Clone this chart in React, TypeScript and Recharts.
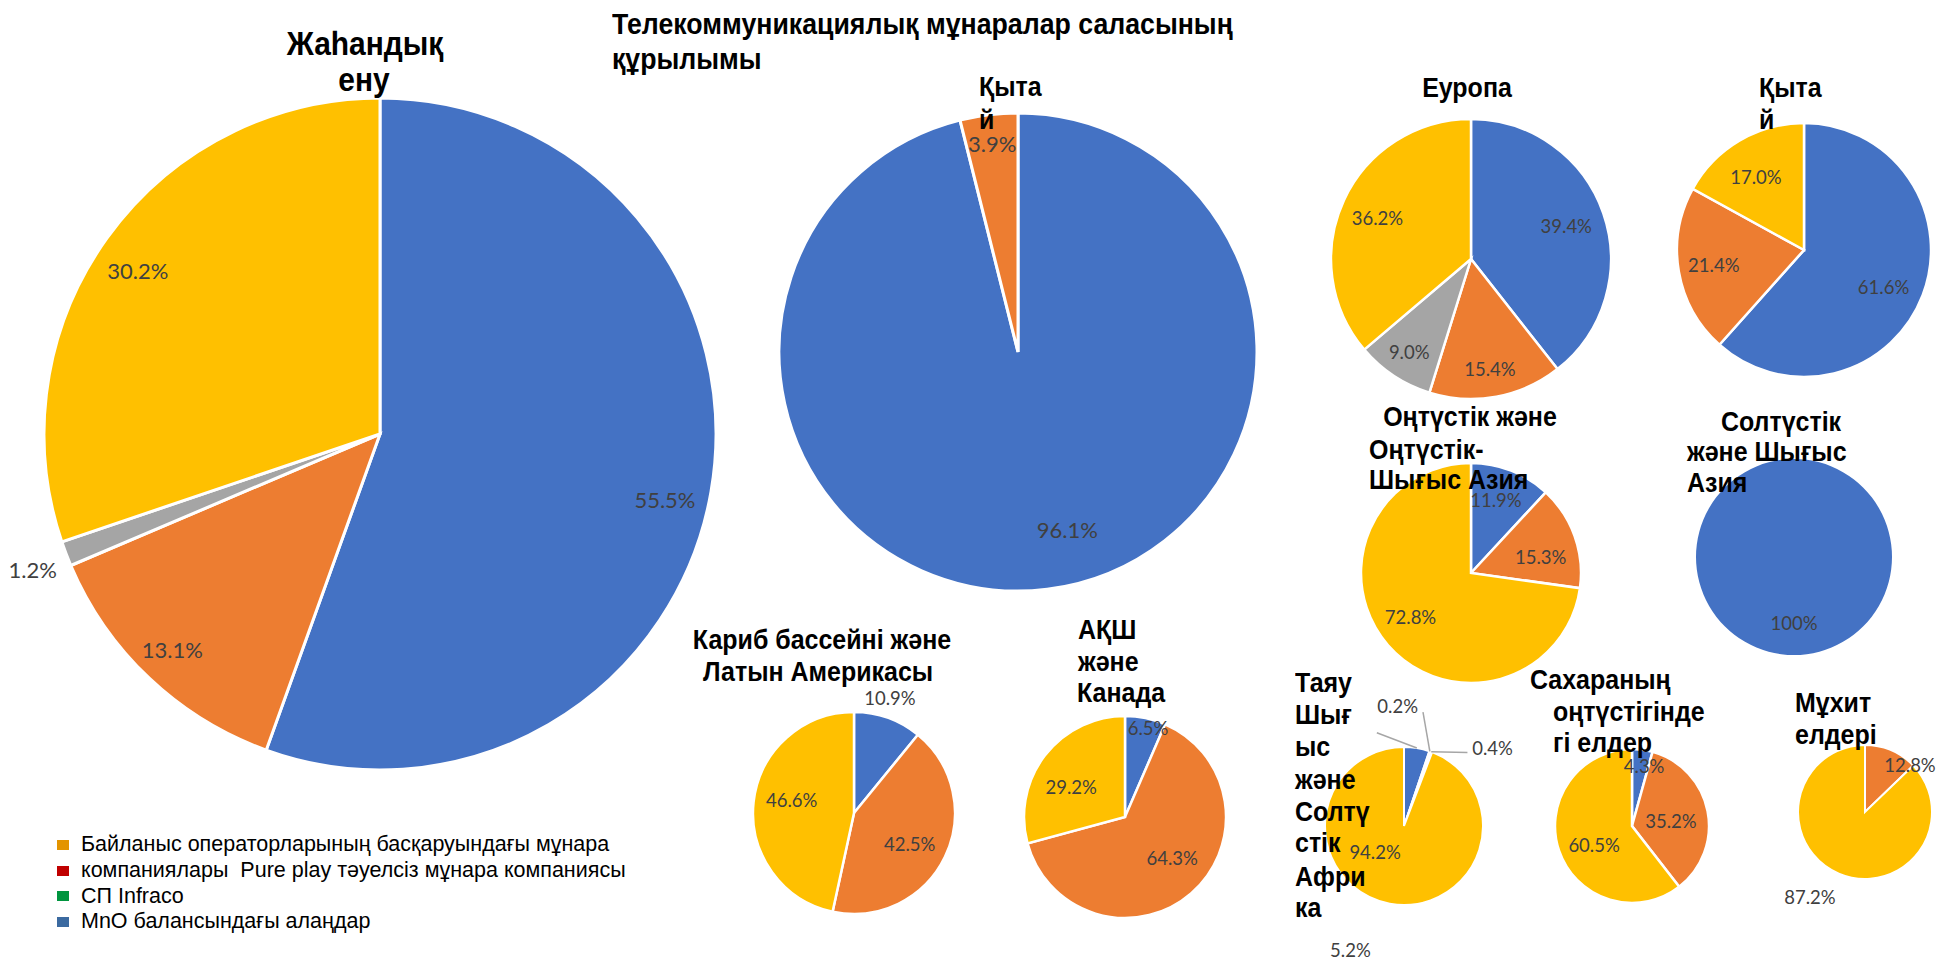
import React from "react";
import { PieChart, Pie, Cell } from "recharts";

// series colours (Office palette)
const COLORS: Record<string, string> = {
  blue: "#4472C4",
  orange: "#ED7D31",
  gray: "#A5A5A5",
  yellow: "#FFC000",
};

// values per pie, clockwise from 12 o'clock
const globalSeries = ["blue", "orange", "gray", "yellow"];
const globalValues = [55.5, 13.1, 1.2, 30.2];

const chinaSeries = ["blue", "orange"];
const chinaValues = [96.1, 3.9];

const europeSeries = ["blue", "orange", "gray", "yellow"];
const europeValues = [39.4, 15.4, 9.0, 36.2];

const china2Series = ["blue", "orange", "yellow"];
const china2Values = [61.6, 21.4, 17.0];

const southAsiaSeries = ["blue", "orange", "yellow"];
const southAsiaValues = [11.9, 15.3, 72.8];

const northAsiaSeries = ["blue"];
const northAsiaValues = [100];

const latamSeries = ["blue", "orange", "yellow"];
const latamValues = [10.9, 42.5, 46.6];

const usaSeries = ["blue", "orange", "yellow"];
const usaValues = [6.5, 64.3, 29.2];

const menaSeries = ["blue", "orange", "gray", "yellow"];
const menaValues = [5.2, 0.2, 0.4, 94.2];

const ssaSeries = ["blue", "orange", "yellow"];
const ssaValues = [4.3, 35.2, 60.5];

const oceaniaSeries = ["orange", "yellow"];
const oceaniaValues = [12.8, 87.2];

const legendItems = [
  { color: "#E39400", text: "Байланыс операторларының басқаруындағы мұнара" },
  { color: "#C00000", text: "компаниялары  Pure play тәуелсіз мұнара компаниясы" },
  { color: "#00953F", text: "СП Infraco" },
  { color: "#3B6AA0", text: "MnO балансындағы алаңдар" },
];

type Line = { text: string; x: number; y: number; center?: boolean; size: number; sx: number };

const H1 = { size: 34, sx: 0.88 };
const H2 = { size: 30, sx: 0.89 };
const H3 = { size: 27, sx: 0.925 };

const titles: Line[] = [
  { text: "Жаһандық", x: 365, y: 43, center: true, ...H1 },
  { text: "ену", x: 364, y: 79, center: true, ...H1 },
  { text: "Телекоммуникациялық мұнаралар саласының", x: 612, y: 24, ...H2 },
  { text: "құрылымы", x: 612, y: 59, ...H2 },
  { text: "Қыта", x: 979, y: 87, ...H3 },
  { text: "й", x: 979, y: 120, ...H3 },
  { text: "Еуропа", x: 1467, y: 88, center: true, ...H3 },
  { text: "Қыта", x: 1759, y: 88, ...H3 },
  { text: "й", x: 1759, y: 120, ...H3 },
  { text: "Оңтүстік және", x: 1470, y: 417, center: true, ...H3 },
  { text: "Оңтүстік-", x: 1369, y: 450, ...H3 },
  { text: "Шығыс Азия", x: 1369, y: 480, ...H3 },
  { text: "Солтүстік", x: 1781, y: 422, center: true, ...H3 },
  { text: "және Шығыс", x: 1687, y: 452, ...H3 },
  { text: "Азия", x: 1687, y: 483, ...H3 },
  { text: "Кариб бассейні және", x: 822, y: 640, center: true, ...H3 },
  { text: "Латын Америкасы", x: 818, y: 672, center: true, ...H3 },
  { text: "АҚШ", x: 1078, y: 630, ...H3 },
  { text: "және", x: 1078, y: 662, ...H3 },
  { text: "Канада", x: 1077, y: 693, ...H3 },
  { text: "Таяу", x: 1295, y: 683, ...H3 },
  { text: "Шығ", x: 1295, y: 715, ...H3 },
  { text: "ыс", x: 1295, y: 747, ...H3 },
  { text: "және", x: 1295, y: 780, ...H3 },
  { text: "Солтү", x: 1295, y: 812, ...H3 },
  { text: "стік", x: 1295, y: 843, ...H3 },
  { text: "Афри", x: 1295, y: 877, ...H3 },
  { text: "ка", x: 1295, y: 908, ...H3 },
  { text: "Сахараның", x: 1530, y: 680, ...H3 },
  { text: "оңтүстігінде", x: 1553, y: 712, ...H3 },
  { text: "гі елдер", x: 1553, y: 743, ...H3 },
  { text: "Мұхит", x: 1795, y: 703, ...H3 },
  { text: "елдері", x: 1795, y: 735, ...H3 },
];

// label placement: [radius factor, angle shift in degrees clockwise]
type PieDef = {
  id: string;
  series: string[];
  values: number[];
  cx: number;
  cy: number;
  r: number;
  fs: number;
  sw: number;
  place: number[][];
  leaders?: (number[] | null)[];
};

const pies: PieDef[] = [
  { id: "global", series: globalSeries, values: globalValues, cx: 380, cy: 434, r: 336, fs: 22, sw: 3,
    place: [[0.87, 3], [0.89, 0.6], [1.11, -0.5], [0.87, -1.6]] },
  { id: "china", series: chinaSeries, values: chinaValues, cx: 1018, cy: 352, r: 239, fs: 22, sw: 3,
    place: [[0.77, -8.5], [0.88, 0]] },
  { id: "europe", series: europeSeries, values: europeValues, cx: 1471, cy: 259, r: 140, fs: 18.5, sw: 2.5,
    place: [[0.72, 0], [0.8, 0.7], [0.8, 0], [0.73, -1.2]] },
  { id: "china2", series: china2Series, values: china2Values, cx: 1804, cy: 250, r: 127, fs: 18.5, sw: 2.5,
    place: [[0.69, 3.9], [0.72, 0.2], [0.69, -2.7]] },
  { id: "southAsia", series: southAsiaSeries, values: southAsiaValues, cx: 1471, cy: 573, r: 110, fs: 18.5, sw: 2.5,
    place: [[0.7, -2.5], [0.65, 6.6], [0.68, 5]] },
  { id: "northAsia", series: northAsiaSeries, values: northAsiaValues, cx: 1794, cy: 557, r: 98, fs: 18.5, sw: 0,
    place: [[0.67, 0]] },
  { id: "latam", series: latamSeries, values: latamValues, cx: 854, cy: 813, r: 101, fs: 18.5, sw: 2.5,
    place: [[1.19, -2.2], [0.63, 3.3], [0.63, 5.8]] },
  { id: "usa", series: usaSeries, values: usaValues, cx: 1125, cy: 817, r: 101, fs: 18.5, sw: 2.5,
    place: [[0.91, 2.8], [0.62, -8.1], [0.61, -8.4]] },
  { id: "mena", series: menaSeries, values: menaValues, cx: 1404, cy: 826, r: 79, fs: 18.5, sw: 2,
    place: [[1.71, 194], [1.52, -22.1], [1.49, 28.6], [0.49, 37.9]],
    leaders: [[1.23, -25.6], [1.46, -9.6], [1.23, 20.6], null] },
  { id: "ssa", series: ssaSeries, values: ssaValues, cx: 1632, cy: 826, r: 77, fs: 18.5, sw: 2.5,
    place: [[0.8, 3.6], [0.51, 3.9], [0.55, -7.6]] },
  { id: "oceania", series: oceaniaSeries, values: oceaniaValues, cx: 1865, cy: 812, r: 67, fs: 18.5, sw: 2,
    place: [[0.97, 20.8], [1.51, 9.9]] },
];

const RAD = Math.PI / 180;

const fmt = (v: number) => (v === 100 ? "100%" : `${v.toFixed(1)}%`);

const makeLabel = (p: PieDef) => (props: any) => {
  const { cx, cy, midAngle, outerRadius, index, value } = props;
  const [f, d] = p.place[index] || [0.7, 0];
  const a = (midAngle - d) * RAD;
  const x = cx + outerRadius * f * Math.cos(a);
  const y = cy - outerRadius * f * Math.sin(a);
  const lead = p.leaders ? p.leaders[index] : null;
  let line = null;
  if (lead) {
    const m = midAngle * RAD;
    const la = (midAngle - lead[1]) * RAD;
    line = (
      <line
        x1={cx + outerRadius * Math.cos(m)}
        y1={cy - outerRadius * Math.sin(m)}
        x2={cx + outerRadius * lead[0] * Math.cos(la)}
        y2={cy - outerRadius * lead[0] * Math.sin(la)}
        stroke="#A6A6A6"
        strokeWidth={1.5}
      />
    );
  }
  return (
    <g key={`lbl-${p.id}-${index}`}>
      {line}
      <text
        x={x}
        y={y}
        textAnchor="middle"
        dominantBaseline="central"
        fill="#404040"
        fontSize={p.fs}
        fontFamily="Lato, 'Open Sans', sans-serif"
      >
        {fmt(value)}
      </text>
    </g>
  );
};

const App = () => {
  return (
    <div style={{ position: "relative", width: 1939, height: 962, background: "#fff", overflow: "hidden" }}>
      <style>{"body{margin:0;overflow:hidden}"}</style>
      <PieChart width={1939} height={962} margin={{ top: 0, right: 0, bottom: 0, left: 0 }}>
        {pies.map((p) => (
          <Pie
            key={p.id}
            data={p.values.map((v, i) => ({ name: p.series[i], value: v }))}
            dataKey="value"
            nameKey="name"
            cx={p.cx}
            cy={p.cy}
            outerRadius={p.r}
            startAngle={90}
            endAngle={-270}
            stroke="#fff"
            strokeWidth={p.sw}
            label={makeLabel(p)}
            labelLine={false}
            isAnimationActive={false}
          >
            {p.series.map((s, i) => (
              <Cell key={`${p.id}-${i}`} fill={COLORS[s]} />
            ))}
          </Pie>
        ))}
      </PieChart>
      {titles.map((t, i) => (
        <div
          key={i}
          style={{
            position: "absolute",
            left: t.x,
            top: t.y - t.size * 0.6,
            transform: t.center ? `translateX(-50%) scaleX(${t.sx})` : `scaleX(${t.sx})`,
            transformOrigin: t.center ? "50% 50%" : "0 50%",
            fontFamily: "'Liberation Sans', Arial, sans-serif",
            fontWeight: "bold",
            fontSize: t.size,
            lineHeight: `${t.size * 1.2}px`,
            whiteSpace: "nowrap",
            color: "#000",
          }}
        >
          {t.text}
        </div>
      ))}
      <div style={{ position: "absolute", left: 57, top: 832, fontFamily: "'Liberation Sans', Arial, sans-serif", fontSize: 21.5 }}>
        {legendItems.map((it, i) => (
          <div key={i} style={{ display: "flex", alignItems: "center", height: 25.7 }}>
            <span style={{ display: "inline-block", width: 12, height: 10, background: it.color, marginRight: 12, flexShrink: 0 }} />
            <span style={{ whiteSpace: "pre", color: "#000" }}>{it.text}</span>
          </div>
        ))}
      </div>
    </div>
  );
};

export default App;
